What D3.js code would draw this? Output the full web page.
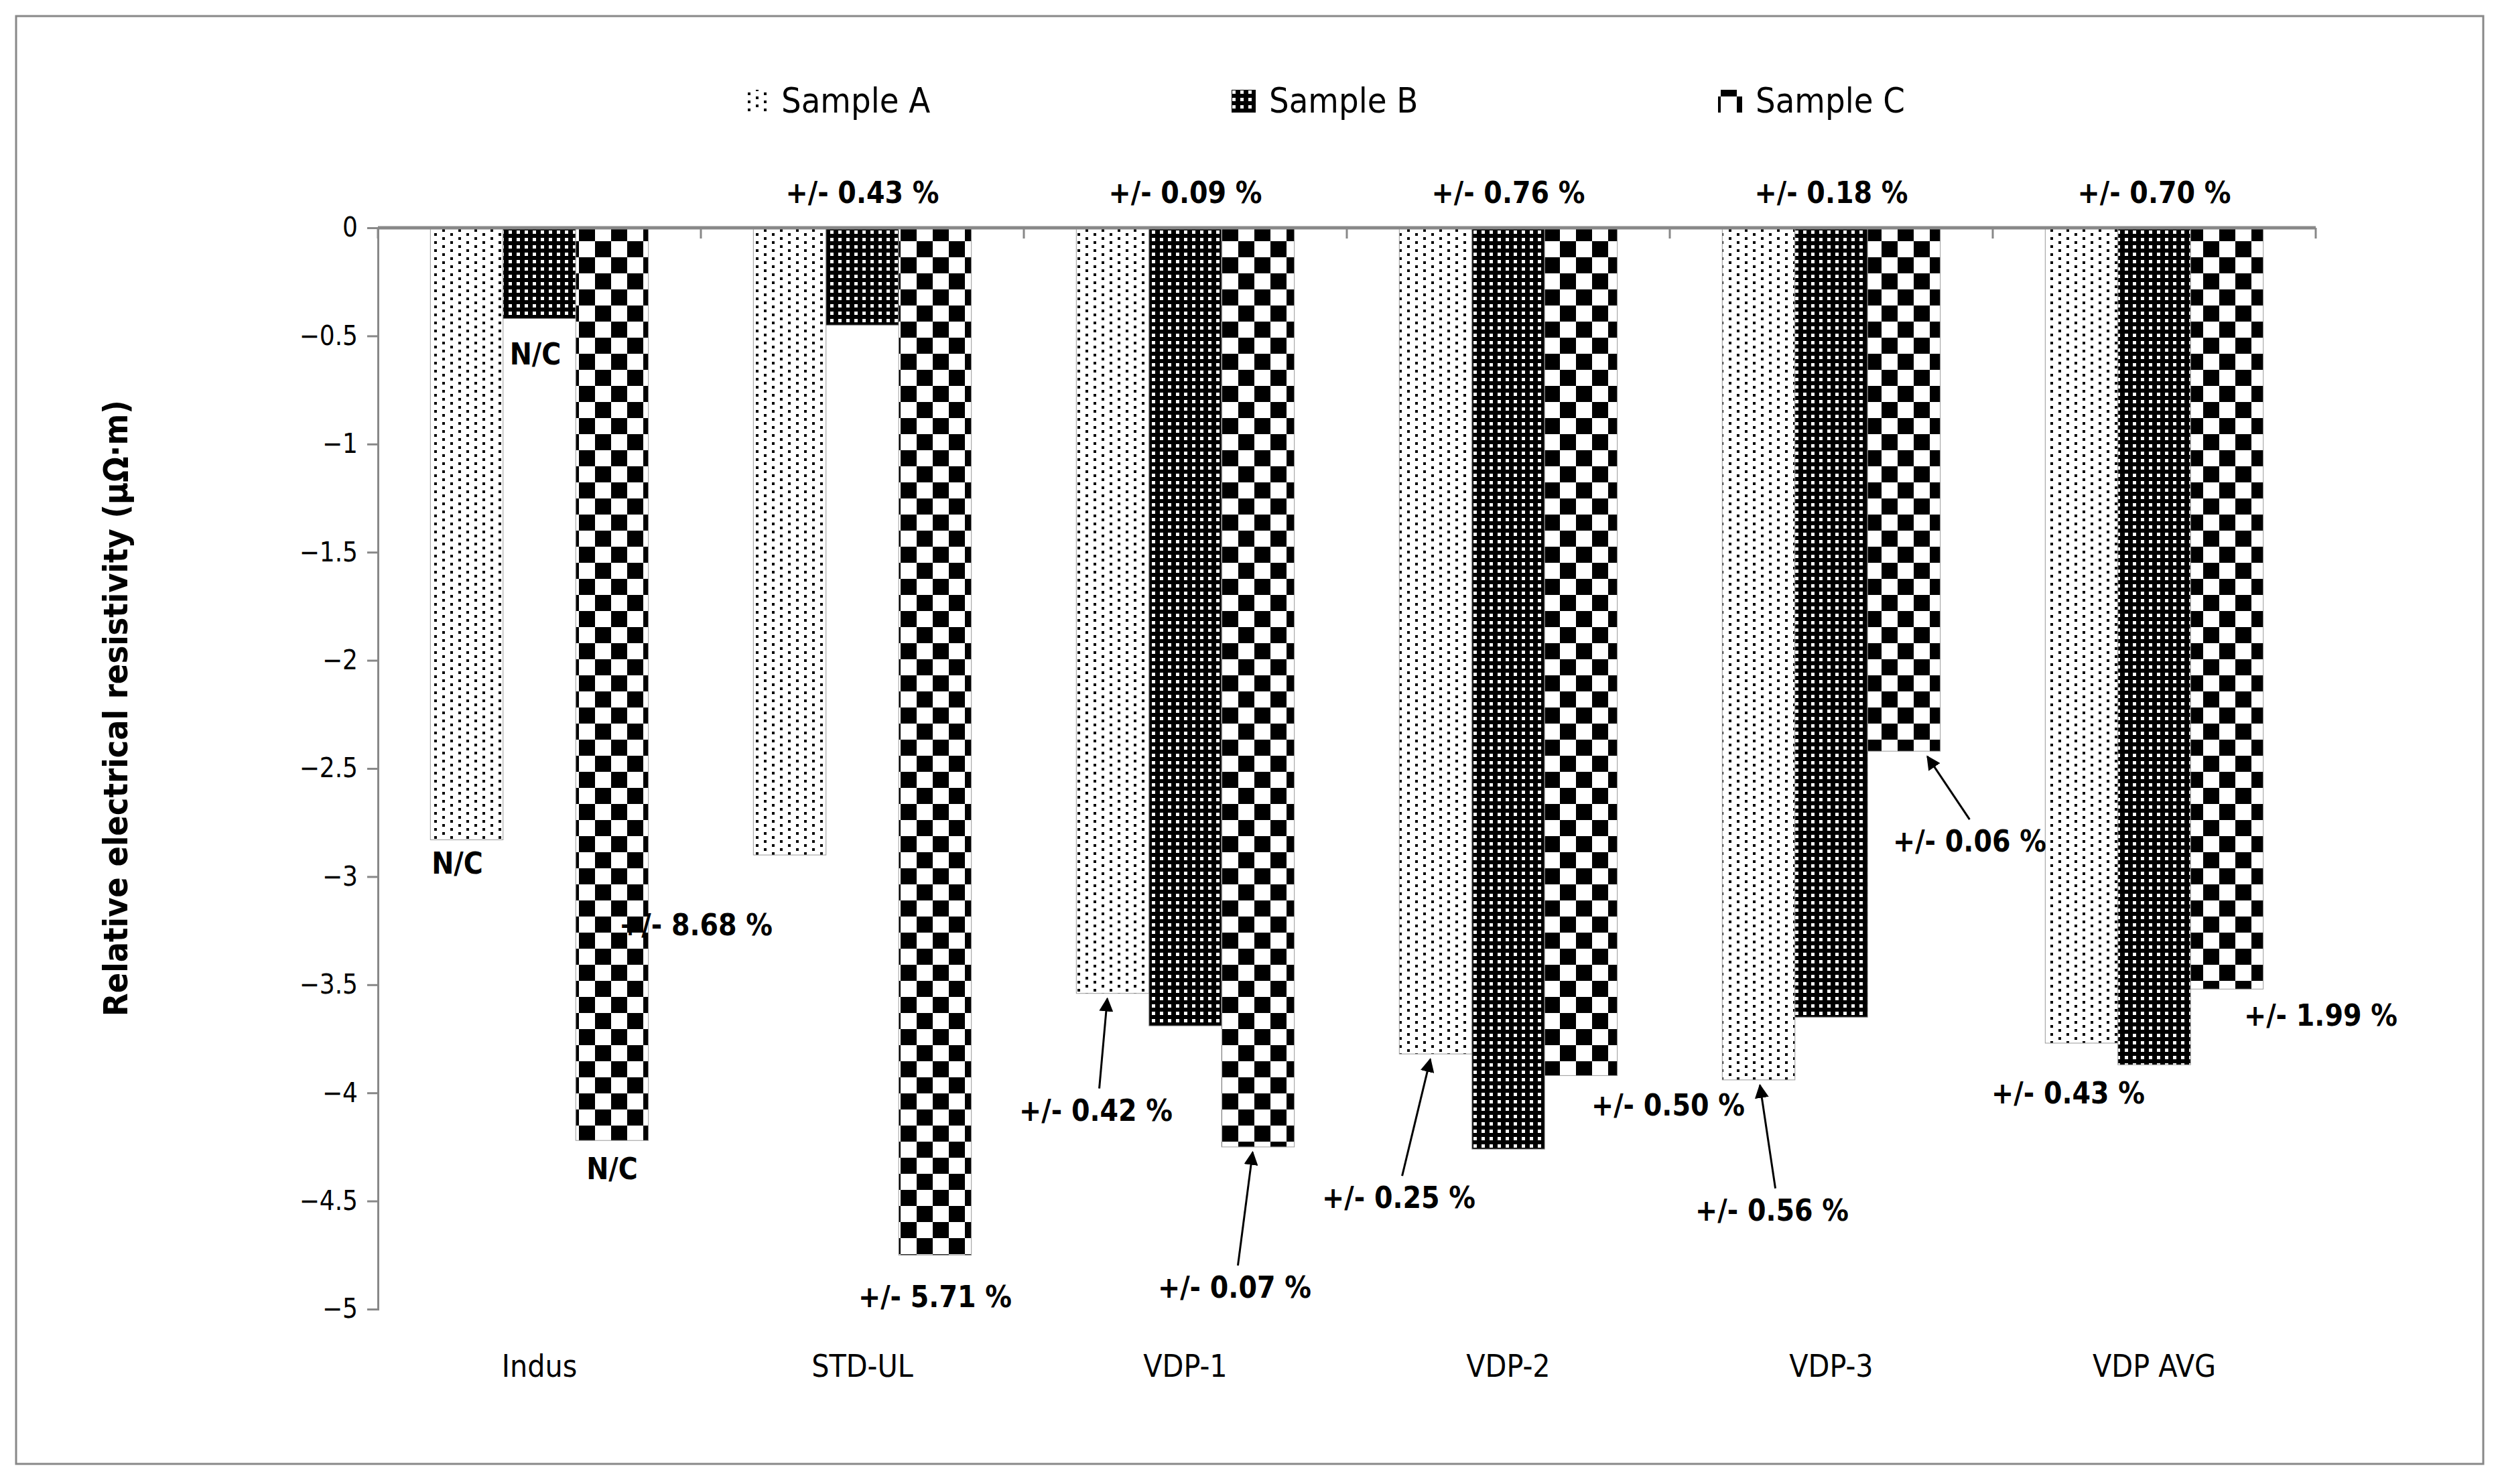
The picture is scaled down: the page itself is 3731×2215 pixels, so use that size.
<!DOCTYPE html>
<html><head><meta charset="utf-8">
<script src="https://cdn.jsdelivr.net/npm/d3@7"></script>
<style>body{margin:0;background:#fff}</style>
</head><body>
<div id="chart"></div>
<script>
var categories = ['Indus', 'STD-UL', 'VDP-1', 'VDP-2', 'VDP-3', 'VDP AVG'];
var series = ['Sample A', 'Sample B', 'Sample C'];
var sampleA = [-2.83, -2.9, -3.54, -3.82, -3.94, -3.77];
var sampleB = [-0.42, -0.45, -3.69, -4.26, -3.65, -3.87];
var sampleC = [-4.22, -4.75, -4.25, -3.92, -2.42, -3.52];
var yTicks = [0, -0.5, -1, -1.5, -2, -2.5, -3, -3.5, -4, -4.5, -5];
var topLabels = ['', '+/- 0.43 %', '+/- 0.09 %', '+/- 0.76 %', '+/- 0.18 %', '+/- 0.70 %'];
// [category, series, text, dx, dy, arrow]
var barLabels = [
  [0, 0, 'N/C', -14, 50, false],
  [0, 1, 'N/C', -6, 68, false],
  [0, 2, 'N/C', 0, 58, false],
  [1, 0, '+/- 8.68 %', -140, 120, false],
  [1, 2, '+/- 5.71 %', 0, 78, false],
  [2, 0, '+/- 0.42 %', -25, 190, true],
  [2, 2, '+/- 0.07 %', -35, 225, true],
  [3, 0, '+/- 0.25 %', -55, 230, true],
  [3, 2, '+/- 0.50 %', 130, 60, false],
  [4, 0, '+/- 0.56 %', 20, 210, true],
  [4, 2, '+/- 0.06 %', 98, 150, true],
  [5, 0, '+/- 0.43 %', -20, 90, false],
  [5, 2, '+/- 1.99 %', 140, 55, false]
];
var values = [sampleA, sampleB, sampleC];

var W = 3731, H = 2215;
var font = "'Liberation Sans Narrow','DejaVu Sans Condensed','Noto Sans',sans-serif";
var svg = d3.select('#chart').append('svg').attr('width', W).attr('height', H);
var defs = svg.append('defs');

var pA = defs.append('pattern').attr('id', 'pA').attr('patternUnits', 'userSpaceOnUse')
  .attr('width', 24).attr('height', 12);
pA.append('rect').attr('width', 24).attr('height', 12).attr('fill', '#fff');
pA.append('rect').attr('x', 0).attr('y', 0).attr('width', 4).attr('height', 4).attr('fill', '#000');
pA.append('rect').attr('x', 12).attr('y', 6).attr('width', 4).attr('height', 4).attr('fill', '#000');

var pB = defs.append('pattern').attr('id', 'pB').attr('patternUnits', 'userSpaceOnUse')
  .attr('width', 12).attr('height', 11);
pB.append('rect').attr('width', 12).attr('height', 11).attr('fill', '#000');
pB.append('rect').attr('x', 3).attr('y', 3).attr('width', 5).attr('height', 5).attr('fill', '#fff');

var pC = defs.append('pattern').attr('id', 'pC').attr('patternUnits', 'userSpaceOnUse')
  .attr('width', 48).attr('height', 48);
pC.append('rect').attr('width', 48).attr('height', 48).attr('fill', '#fff');
pC.append('rect').attr('width', 24).attr('height', 24).attr('fill', '#000');
pC.append('rect').attr('x', 24).attr('y', 24).attr('width', 24).attr('height', 24).attr('fill', '#000');

defs.append('marker').attr('id', 'arr').attr('viewBox', '0 0 10 10').attr('refX', 9).attr('refY', 5)
  .attr('markerWidth', 7).attr('markerHeight', 7).attr('orient', 'auto-start-reverse')
  .append('path').attr('d', 'M0,0 L10,5 L0,10 z').attr('fill', '#000');

var fills = ['url(#pA)', 'url(#pB)', 'url(#pC)'];

svg.append('rect').attr('x', 24).attr('y', 24).attr('width', 3682).attr('height', 2161)
  .attr('fill', 'none').attr('stroke', '#888').attr('stroke-width', 3);

var x = d3.scaleBand().domain(categories).range([564, 3456]).paddingInner(0.325).paddingOuter(0.1625);
var xs = d3.scaleBand().domain(series).range([0, x.bandwidth()]);
var y = d3.scaleLinear().domain([-5, 0]).range([1954, 340]);

// bars
categories.forEach(function (c, i) {
  series.forEach(function (s, j) {
    var v = values[j][i];
    svg.append('rect').attr('x', x(c) + xs(s)).attr('y', y(0))
      .attr('width', xs.bandwidth()).attr('height', y(v) - y(0))
      .attr('fill', fills[j]).attr('stroke', '#999').attr('stroke-width', 1);
  });
});

// y axis
var yAxis = svg.append('g').attr('transform', 'translate(564,0)')
  .call(d3.axisLeft(y).tickValues(yTicks).tickSize(16).tickPadding(14).tickFormat(d3.format('')));
yAxis.selectAll('path,line').attr('stroke', '#888').attr('stroke-width', 3);
yAxis.selectAll('text').attr('font-family', font).attr('font-size', 40).attr('fill', '#000');

// x axis line at zero, ticks between categories
svg.append('line').attr('x1', 564).attr('x2', 3456).attr('y1', y(0)).attr('y2', y(0))
  .attr('stroke', '#888').attr('stroke-width', 5);
var step = x.step();
d3.range(categories.length + 1).forEach(function (k) {
  var xx = 564 + k * step;
  svg.append('line').attr('x1', xx).attr('x2', xx).attr('y1', y(0)).attr('y2', y(0) + 16)
    .attr('stroke', '#888').attr('stroke-width', 3);
});
categories.forEach(function (c) {
  svg.append('text').attr('x', x(c) + x.bandwidth() / 2).attr('y', 2055)
    .attr('text-anchor', 'middle').attr('font-family', font).attr('font-size', 46).text(c);
});

// axis title
svg.append('text').attr('transform', 'translate(190,' + (y(-2.5) - 90) + ') rotate(-90)')
  .attr('text-anchor', 'middle').attr('font-family', font).attr('font-size', 50)
  .attr('font-weight', 'bold').text('Relative electrical resistivity (\u00b5\u03a9\u00b7m)');

// top labels
categories.forEach(function (c, i) {
  if (!topLabels[i]) return;
  svg.append('text').attr('x', x(c) + x.bandwidth() / 2).attr('y', 303)
    .attr('text-anchor', 'middle').attr('font-family', font).attr('font-size', 44)
    .attr('font-weight', 'bold').text(topLabels[i]);
});

// bar labels
barLabels.forEach(function (b) {
  var c = categories[b[0]], s = series[b[1]];
  var bx = x(c) + xs(s) + xs.bandwidth() / 2, by = y(values[b[1]][b[0]]);
  var tx = bx + b[3], ty = by + b[4];
  svg.append('text').attr('x', tx).attr('y', ty).attr('text-anchor', 'middle')
    .attr('font-family', font).attr('font-size', 44).attr('font-weight', 'bold').text(b[2]);
  if (b[5]) {
    svg.append('line').attr('x1', tx + (b[0] === 4 && b[1] === 2 ? 0 : 5)).attr('y1', ty - 48)
      .attr('x2', b[0] === 4 && b[1] === 2 ? bx + 35 : bx - 8 + (b[0] === 4 ? 10 : 0))
      .attr('y2', by + 8).attr('stroke', '#000').attr('stroke-width', 3)
      .attr('marker-end', 'url(#arr)');
  }
});

// legend
var legX = [1110, 1838, 2564];
series.forEach(function (s, j) {
  svg.append('rect').attr('x', legX[j]).attr('y', 134).attr('width', 36).attr('height', 34)
    .attr('fill', fills[j]);
  svg.append('text').attr('x', legX[j] + 56).attr('y', 168).attr('font-family', font)
    .attr('font-size', 52).text(s);
});
</script>
</body></html>
